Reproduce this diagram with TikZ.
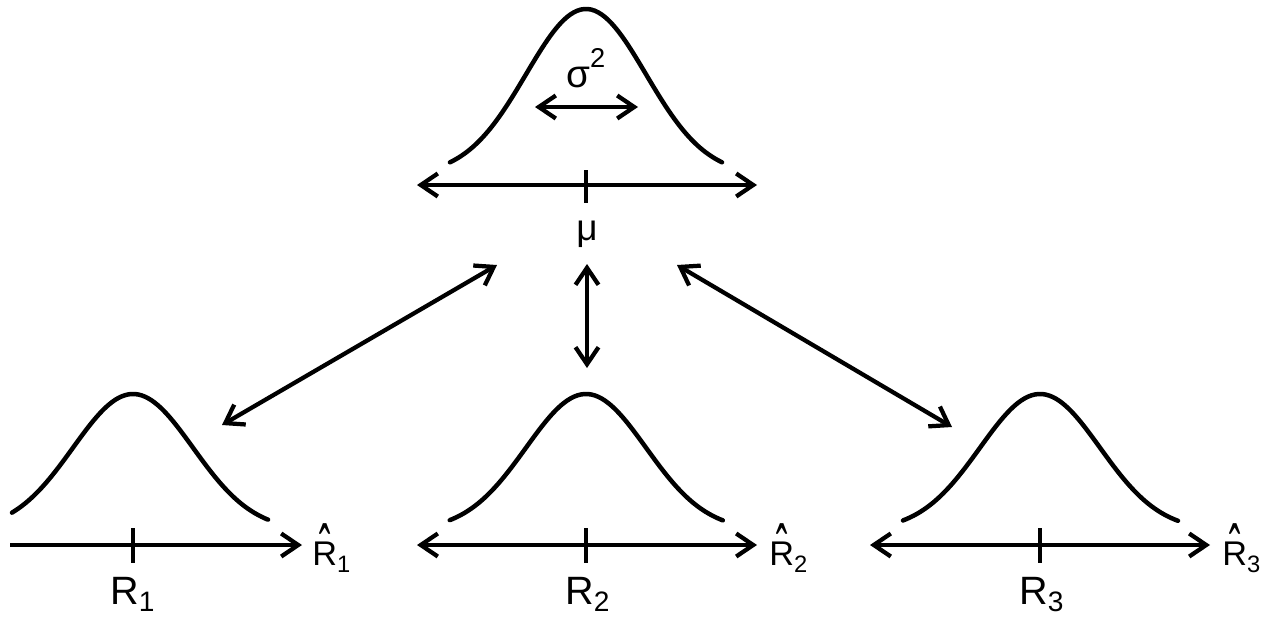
\documentclass[tikz,border=0pt]{standalone}
\usepackage{fontspec}
\usepackage{graphicx}
\setmainfont{Liberation Sans}
\usetikzlibrary{arrows.meta}
\newcommand{\Rsub}[1]{R\raisebox{-4.2pt}{\fontsize{16}{16}\selectfont #1}}
\newcommand{\Rhatsub}[1]{\setbox0\hbox{R}\rlap{\hbox to \wd0{\hss\raisebox{-0.39em}{\scalebox{1}[2.2]{\char"02C6}}\hss}}R\raisebox{-4.5pt}{\fontsize{13.5}{13.5}\selectfont #1}}
\tikzset{
  ln/.style={line width=0.085cm},
  curve/.style={line width=0.09cm, line cap=round, line join=round},
  >={Straight Barb[length=0.34cm,width=0.46cm]},
  lab/.style={inner sep=0pt, anchor=base west, font=\fontsize{22.5}{22.5}\selectfont},
  hatlab/.style={inner sep=0pt, anchor=base west, font=\fontsize{19.5}{19.5}\selectfont},
  greek/.style={inner sep=0pt, font=\fontsize{22}{22}\selectfont},
}
\begin{document}
\begin{tikzpicture}[x=0.02cm, y=-0.02cm]
\useasboundingbox[fill=white] (0,0) rectangle (1280,619);

% ---- top distribution
\draw[curve] plot[domain=-2.267:2.267, samples=80, smooth] ({586+60*\x}, {175-166*exp(-\x*\x/2)});
\coordinate (topL) at (417,185);
\coordinate (topR) at (757,185);
\draw[ln,<->] (topL) -- (topR);
\coordinate (topTickA) at (586,170);
\coordinate (topTickB) at (586,203);
\draw[ln] (topTickA) -- (topTickB);
\coordinate (sigL) at (535,107);
\coordinate (sigR) at (638,107);
\draw[ln,<->] (sigL) -- (sigR);
\node[greek, anchor=base west] (sigma) at (566,87) {σ\raisebox{11pt}{\fontsize{15.5}{15.5}\selectfont 2}};
\node[greek, anchor=base, font=\fontsize{21}{21}\selectfont] (mu) at (587,240) {μ};

% ---- connectors
\coordinate (c1a) at (497,265);
\coordinate (c1b) at (222,425);
\draw[ln,<->] (c1a) -- (c1b);
\coordinate (c2a) at (587,264);
\coordinate (c2b) at (587,368);
\draw[ln,<->] (c2a) -- (c2b);
\coordinate (c3a) at (677,265);
\coordinate (c3b) at (952,427);
\draw[ln,<->] (c3a) -- (c3b);

% ---- bottom left
\draw[curve] plot[domain=-2.017:2.25, samples=80, smooth] ({133+60*\x}, {530.5-136.5*exp(-\x*\x/2)});
\coordinate (aL1) at (10,545);
\coordinate (aR1) at (302,545);
\draw[ln,->] (aL1) -- (aR1);
\coordinate (t1a) at (133,528);
\coordinate (t1b) at (133,563);
\draw[ln] (t1a) -- (t1b);
\node[lab] (R1) at (110,604) {\Rsub{1}};
\node[hatlab] (Rh1) at (312,565) {\Rhatsub{1}};

% ---- bottom middle
\draw[curve] plot[domain=-2.27:2.28, samples=80, smooth] ({586+60*\x}, {530.5-136.5*exp(-\x*\x/2)});
\coordinate (aL2) at (417,545);
\coordinate (aR2) at (757,545);
\draw[ln,<->] (aL2) -- (aR2);
\coordinate (t2a) at (586,528);
\coordinate (t2b) at (586,563);
\draw[ln] (t2a) -- (t2b);
\node[lab] (R2) at (565,604) {\Rsub{2}};
\node[hatlab] (Rh2) at (769,565) {\Rhatsub{2}};

% ---- bottom right
\draw[curve] plot[domain=-2.283:2.3, samples=80, smooth] ({1040+60*\x}, {530.5-136.5*exp(-\x*\x/2)});
\coordinate (aL3) at (870,545);
\coordinate (aR3) at (1210,545);
\draw[ln,<->] (aL3) -- (aR3);
\coordinate (t3a) at (1040,528);
\coordinate (t3b) at (1040,563);
\draw[ln] (t3a) -- (t3b);
\node[lab] (R3) at (1019,604) {\Rsub{3}};
\node[hatlab] (Rh3) at (1222,565) {\Rhatsub{3}};
\end{tikzpicture}
\end{document}
